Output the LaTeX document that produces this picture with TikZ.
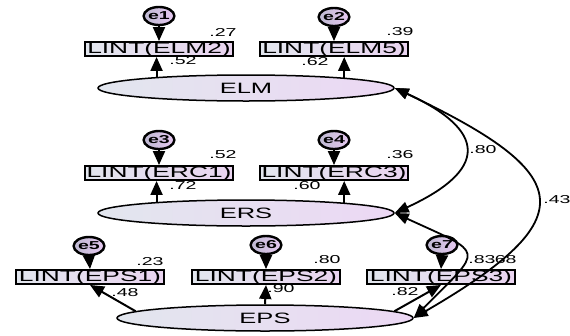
\documentclass[tikz,border=0pt]{standalone}
\usepackage{fontspec}
\setmainfont{Liberation Sans}
\usepackage{graphicx}
\usetikzlibrary{arrows.meta,shapes.geometric}
\newcommand{\sxx}[1]{\scalebox{1.7}[1]{#1}}
\definecolor{latL}{RGB}{226,230,238}
\definecolor{latR}{RGB}{236,216,244}
\definecolor{obsL}{RGB}{226,230,238}
\definecolor{obsR}{RGB}{234,212,240}
\definecolor{errL}{RGB}{190,185,210}
\definecolor{errR}{RGB}{230,200,240}
\begin{document}
\begin{tikzpicture}[x=1pt,y=-1pt,
  lat/.style={ellipse, draw=black, line width=1.5pt, minimum width=296pt, minimum height=26pt, inner sep=0pt, left color=latL, right color=latR, font=\fontsize{15}{15}\selectfont},
  obs/.style={rectangle, draw=black, line width=1.5pt, minimum width=148pt, minimum height=14pt, inner sep=0pt, left color=obsL, right color=obsR, font=\fontsize{15.5}{15}\selectfont},
  err/.style={ellipse, draw=black, line width=2.4pt, minimum width=25pt, minimum height=18pt, inner sep=0pt, left color=errL, right color=errR, font=\fontsize{11.5}{11}\bfseries},
  num/.style={font=\fontsize{11.5}{11}\selectfont, inner sep=0pt},
  arr/.style={line width=2pt, -{Triangle[length=14pt,width=12pt]}},
  cov/.style={line width=1.8pt, {Triangle[length=14pt,width=11pt]}-{Triangle[length=14pt,width=11pt]}},
]
\useasboundingbox (0,0) rectangle (570,335);

% latent variables
\node[lat] (ELM) at (246,88) {\sxx{ELM}};
\node[lat] (ERS) at (246,213) {\sxx{ERS}};
\node[lat] (EPS) at (265,318) {\sxx{EPS}};

% observed variables
\node[obs] (b1) at (159,49) {\sxx{LINT(ELM2)}};
\node[obs] (b2) at (334,49) {\sxx{LINT(ELM5)}};
\node[obs] (b3) at (159,173) {\sxx{LINT(ERC1)}};
\node[obs] (b4) at (334,173) {\sxx{LINT(ERC3)}};
\node[obs] (b5) at (90,277) {\sxx{LINT(EPS1)}};
\node[obs] (b6) at (266,277) {\sxx{LINT(EPS2)}};
\node[obs] (b7) at (441,277) {\sxx{LINT(EPS3)}};

% error terms
\node[err] (e1) at (159,16) {\sxx{e1}};
\node[err] (e2) at (334,17) {\sxx{e2}};
\node[err] (e3) at (159,140) {\sxx{e3}};
\node[err] (e4) at (334,140) {\sxx{e4}};
\node[err] (e5) at (89,246) {\sxx{e5}};
\node[err] (e6) at (266,245) {\sxx{e6}};
\node[err] (e7) at (442,245) {\sxx{e7}};

% error arrows
\foreach \e/\b in {e1/b1,e2/b2,e3/b3,e4/b4,e5/b5,e6/b6,e7/b7}
  \draw[arr] (\e.south) -- (\b.north);

% loadings
\draw[arr] (ELM.173.2) -- (ELM.173.2 |- b1.south);
\draw[arr] (ELM.6.9) -- (ELM.6.9 |- b2.south);
\draw[arr] (ERS.173.2) -- (ERS.173.2 |- b3.south);
\draw[arr] (ERS.6.9) -- (ERS.6.9 |- b4.south);
\draw[arr] (EPS.177.5) -- (b5.south);
\draw[arr] (EPS.north) -- (b6.south);
\draw[arr] (EPS.3) -- (b7.south);

% covariances
\draw[cov] (ELM.east) .. controls (488,131) and (488,170) .. (ERS.east);
\draw[cov] (ELM.east) .. controls (576,174) and (586,218) .. (EPS.east);
\draw[cov] (ERS.east) .. controls (486,255) and (484,247) .. (EPS.east);

% numbers
\node[num] (r1) at (223,32) {\sxx{.27}};
\node[num] (l1) at (183,61) {\sxx{.52}};
\node[num] (r2) at (400,32) {\sxx{.39}};
\node[num] (l2) at (315,62) {\sxx{.62}};
\node[num] (r3) at (223,155) {\sxx{.52}};
\node[num] (l3) at (183,185) {\sxx{.72}};
\node[num] (r4) at (400,155) {\sxx{.36}};
\node[num] (l4) at (307,186) {\sxx{.60}};
\node[num] (r5) at (150,262) {\sxx{.23}};
\node[num] (l5) at (125,293) {\sxx{.48}};
\node[num] (r6) at (327,260) {\sxx{.80}};
\node[num] (l6) at (281,289) {\sxx{.90}};
\node[num] (r7) at (482,260) {\sxx{.83}};
\node[num] (c3) at (503,260) {\sxx{.68}};
\node[num] (l7) at (405,292) {\sxx{.82}};
\node[num] (c1) at (483,150) {\sxx{.80}};
\node[num] (c2) at (557,200) {\sxx{.43}};
\end{tikzpicture}
\end{document}
